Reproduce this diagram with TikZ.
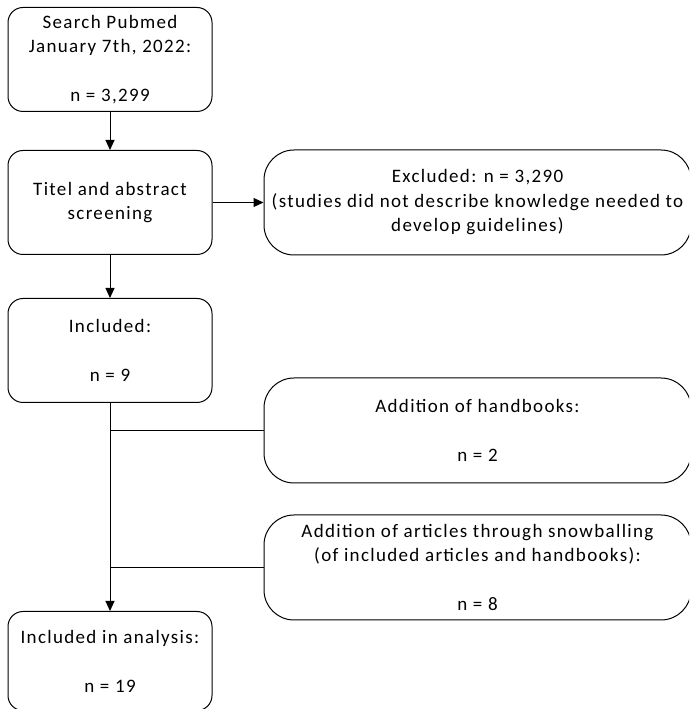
\documentclass[tikz,border=0pt]{standalone}
\usepackage{fontspec}
\setmainfont{Carlito}[LetterSpace=7]
\usetikzlibrary{arrows.meta,positioning}

\begin{document}
\begin{tikzpicture}[->, >={Triangle[length=10pt,width=9pt]}, x=1pt, y=1pt, line width=1pt]
        \tikzstyle{stepbox}=[rectangle, rounded corners=15pt, draw, minimum width=204pt, minimum height=104pt, inner sep=2pt, align=center, font=\fontsize{19}{24.5}\selectfont]
        \tikzstyle{sidebox}=[rectangle, rounded corners=30pt, draw, minimum width=427pt, minimum height=105pt, inner sep=2pt, align=center, font=\fontsize{19}{24.5}\selectfont]
        \useasboundingbox (0,0) rectangle (689,709);
        \clip (0,0) rectangle (689,709);
        \node[stepbox] at (110,649.5)         (search) {Search Pubmed\\January 7th, 2022:\\~\\n = 3,299};
        \node[stepbox, below=38pt of search]  (screen) {Titel and abstract\\screening};
        \node[stepbox, below=43pt of screen]  (incl)   {Included:\\~\\n = 9};
        \node[stepbox, below=208pt of incl, minimum height=99pt] (final) {Included in analysis:\\~\\n = 19};
        \node[sidebox, right=51pt of screen]  (excl)   {Excluded: n = 3,290\\(studies did not describe knowledge needed to\\develop guidelines)};
        \node[sidebox, below=122pt of excl]   (hand)   {Addition of handbooks:\\~\\n = 2};
        \node[sidebox, below=31pt of hand]    (snow)   {Addition of articles through snowballing\\(of included articles and handbooks):\\~\\n = 8};
        \draw (search) -- (screen);
        \draw (screen) -- (excl);
        \draw (screen) -- (incl);
        \draw (incl) -- (final);
        \draw[-] (hand.west) -- (hand.west -| incl.south);
        \draw[-] (snow.west) -- (snow.west -| incl.south);
      \end{tikzpicture}
\end{document}
